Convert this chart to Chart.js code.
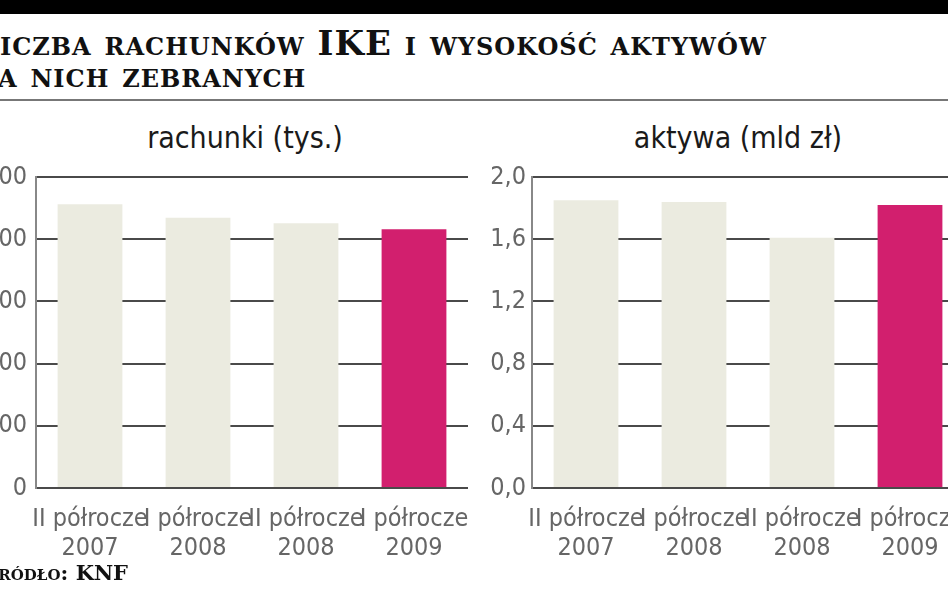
<!DOCTYPE html>
<html>
<head>
<meta charset="utf-8">
<script src="https://cdn.jsdelivr.net/npm/chart.js@4"></script>
<style>
  html, body { margin: 0; padding: 0; background: #fff; }
  body { width: 948px; height: 593px; overflow: hidden; position: relative; }
  .topbar { position: absolute; left: 0; top: 0; width: 948px; height: 14px; background: #000; }
  .title { position: absolute; left: -25px; top: 27px; font-family: 'DejaVu Serif', serif; font-weight: bold;
           font-variant: small-caps; font-size: 34px; letter-spacing: 1px; line-height: 32px; color: #111; white-space: nowrap; }
  .rule { position: absolute; left: 0; top: 99px; width: 948px; height: 2px; background: #777; }
  .sub { position: absolute; top: 120px; width: 400px; text-align: center; font-family: 'DejaVu Sans Condensed', sans-serif;
         font-size: 30px; color: #1a1a1a; }
  .source { position: absolute; left: -17px; top: 560px; font-family: 'DejaVu Serif', serif; font-weight: bold;
            font-variant: small-caps; font-size: 21px; color: #111; white-space: nowrap; }
  canvas { position: absolute; }
</style>
</head>
<body>
<div class="topbar"></div>
<div class="title">Liczba rachunków IKE i wysokość aktywów<br>na nich zebranych</div>
<div class="rule"></div>
<div class="sub" style="left:45px">rachunki (tys.)</div>
<div class="sub" style="left:538px">aktywa (mld zł)</div>
<canvas id="chartLeft" width="540" height="443" style="left:-64px; top:150px"></canvas>
<canvas id="chartRight" width="540" height="443" style="left:432px; top:150px"></canvas>
<div class="source">Źródło: KNF</div>
<script>
// data
var categories = [['II półrocze', '2007'], ['I półrocze', '2008'], ['II półrocze', '2008'], ['I półrocze', '2009']];
var rachunki = [912, 869, 851, 832];
var aktywa = [1.85, 1.84, 1.61, 1.82];
var barColors = ['#ebebe0', '#ebebe0', '#ebebe0', '#d21f6e'];

var tickFont = { family: "'DejaVu Sans Condensed', sans-serif", size: 25, lineHeight: 1.15 };

function makeChart(id, values, max, step, fmt, pad) {
    var ctx = document.getElementById(id).getContext('2d');
    return new Chart(ctx, {
        type: 'bar',
        data: {
            labels: categories,
            datasets: [{
                data: values,
                backgroundColor: barColors,
                borderWidth: 0,
                barPercentage: 0.6,
                categoryPercentage: 1
            }]
        },
        options: {
            responsive: false,
            animation: false,
            layout: { padding: { top: 27, right: 8, bottom: 25, left: 0 } },
            plugins: { legend: { display: false }, tooltip: { enabled: false } },
            scales: {
                x: {
                    grid: { display: false },
                    border: { display: false },
                    ticks: { color: '#666', font: tickFont, padding: 9, maxRotation: 0, autoSkip: false },
                    afterFit: function (scale) {
                        scale.height = 80;
                        scale.paddingLeft = 0;
                        scale.paddingRight = 0;
                    }
                },
                y: {
                    min: 0,
                    max: max,
                    ticks: { stepSize: step, color: '#666', font: tickFont, padding: pad, callback: fmt },
                    grid: { color: '#4a4a4a', lineWidth: 2, drawTicks: false },
                    border: { color: '#888', width: 2 },
                    afterFit: function (scale) { scale.width = 100; }
                }
            }
        }
    });
}

makeChart('chartLeft', rachunki, 1000, 200, function (v) { return v; }, 9);
makeChart('chartRight', aktywa, 2.0, 0.4, function (v) { return v.toFixed(1).replace('.', ','); }, 6);
</script>
</body>
</html>
